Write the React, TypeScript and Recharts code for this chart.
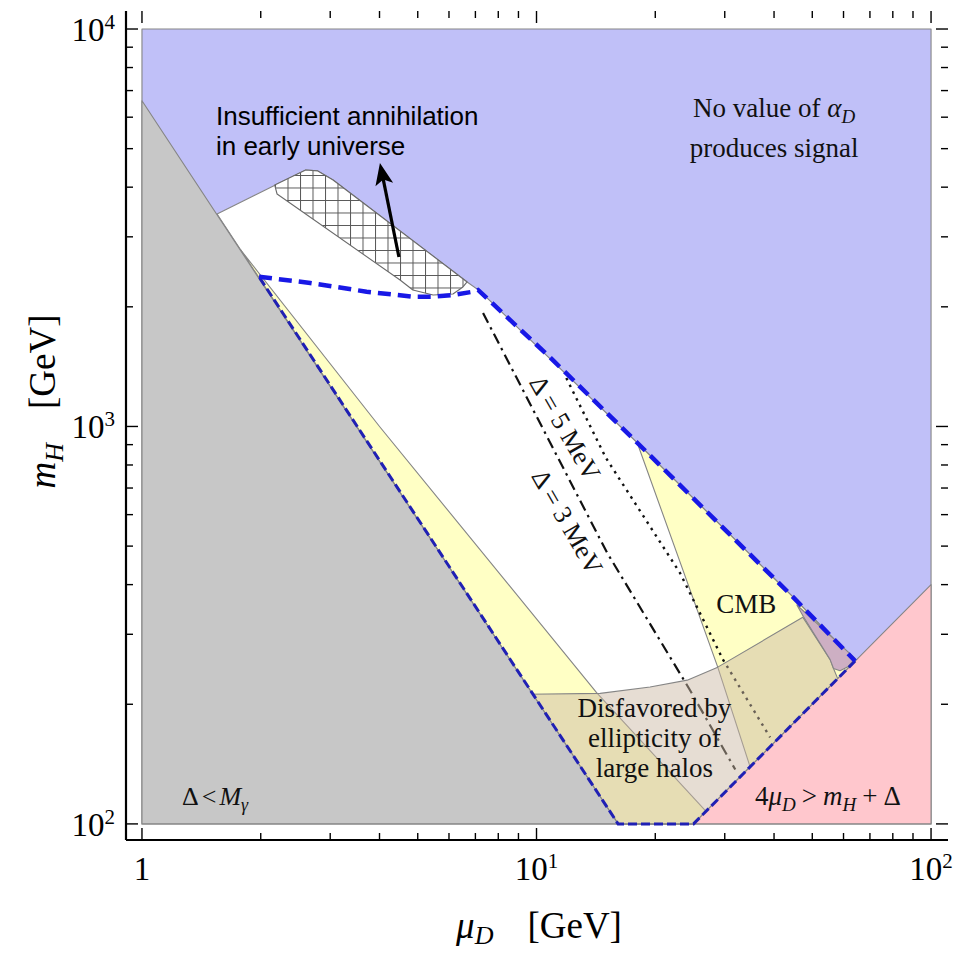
import React from "react";
import { ScatterChart, Scatter, XAxis, YAxis } from "recharts";

const SERIF = '"Liberation Serif", "Times New Roman", Times, serif';
const SANS = '"Liberation Sans", Arial, Helvetica, sans-serif';

const CHART_W = 959;
const CHART_H = 954;
const MARGIN = { top: 11, right: 11, left: 0, bottom: 0 };
const PLOT_TOP = MARGIN.top;
const PLOT_RIGHT = CHART_W - MARGIN.right;

// frame ticks
const xTicks = [1, 2, 3, 4, 5, 6, 7, 8, 9, 10, 20, 30, 40, 50, 60, 70, 80, 90, 100];
const yTicks = [100, 200, 300, 400, 500, 600, 700, 800, 900, 1000, 2000, 3000, 4000, 5000, 6000, 7000, 8000, 9000, 10000];
const xTickLabels: Record<number, [string, string]> = { 1: ["1", ""], 10: ["10", "1"], 100: ["10", "2"] };
const yTickLabels: Record<number, [string, string]> = { 100: ["10", "2"], 1000: ["10", "3"], 10000: ["10", "4"] };

// plot range: 1..100 and 100..10^4 plus frame padding
const xDomain = [0.911, 110.4];
const yDomain = [91.1, 11100];

// regions, points are {x: mu_D [GeV], y: m_H [GeV]}
const noSignalRegion = [
  { x: 1, y: 100 }, { x: 100, y: 100 }, { x: 100, y: 10000 }, { x: 1, y: 10000 },
];
const allowedRegion = [
  { x: 1.55, y: 3425 }, { x: 2.6, y: 4420 }, { x: 2.79, y: 4395 }, { x: 3.05, y: 4170 },
  { x: 6.67, y: 2310 }, { x: 7.19, y: 2190 }, { x: 18, y: 910 }, { x: 44.7, y: 372 },
  { x: 64.2, y: 257 }, { x: 25, y: 100 }, { x: 16.1, y: 100 },
];
const earlyUniverseRegion = [
  { x: 2.17, y: 4050 }, { x: 2.6, y: 4420 }, { x: 2.79, y: 4395 }, { x: 3.05, y: 4170 },
  { x: 6.67, y: 2310 }, { x: 6.51, y: 2244 }, { x: 6.14, y: 2154 }, { x: 5.47, y: 2142 },
  { x: 4.86, y: 2205 }, { x: 4.51, y: 2336 }, { x: 2.2, y: 3845 },
];
const leftYellowRegion = [
  { x: 1.78, y: 2780 }, { x: 4.01, y: 997 }, { x: 14.2, y: 214 }, { x: 26.9, y: 107.5 },
  { x: 25, y: 100 }, { x: 16.1, y: 100 },
];
const cmbRegion = [
  { x: 18, y: 910 }, { x: 44.7, y: 372 }, { x: 64.2, y: 257 }, { x: 34.8, y: 139 }, { x: 28.8, y: 248 },
];
const haloRegion = [
  { x: 9.5, y: 212 }, { x: 14.5, y: 213 }, { x: 19.4, y: 221 }, { x: 24.1, y: 230 },
  { x: 28.8, y: 248 }, { x: 47.3, y: 331 }, { x: 55.5, y: 259 }, { x: 56.6, y: 246 },
  { x: 58, y: 232 }, { x: 25, y: 100 }, { x: 16.1, y: 100 },
];
const purpleRegion = [
  { x: 45.7, y: 355.5 }, { x: 47.5, y: 332 }, { x: 55.5, y: 259 }, { x: 56.6, y: 246 },
  { x: 58.8, y: 243 }, { x: 61.7, y: 249 }, { x: 64.2, y: 261 },
];
const deltaBelowPhotonRegion = [{ x: 1, y: 6600 }, { x: 16.1, y: 100 }, { x: 1, y: 100 }];
const kinematicRegion = [{ x: 25, y: 100 }, { x: 100, y: 400 }, { x: 100, y: 100 }];

// boundaries
const signalEdgeUpper = [
  { x: 1.98, y: 2380 }, { x: 2.67, y: 2296 }, { x: 3.71, y: 2183 }, { x: 4.86, y: 2121 },
  { x: 5.47, y: 2121 }, { x: 6.14, y: 2142 }, { x: 6.9, y: 2183 }, { x: 7.11, y: 2205 },
  { x: 10.8, y: 1495 }, { x: 18, y: 910 }, { x: 44.7, y: 372 }, { x: 64.2, y: 257 },
];
const signalEdgeLower = [
  { x: 64.2, y: 257 }, { x: 25, y: 100 }, { x: 16.1, y: 100 }, { x: 1.98, y: 2380 },
];
const delta3MeV = [{ x: 7.32, y: 1930 }, { x: 15.1, y: 481 }, { x: 24.5, y: 217 }, { x: 31.9, y: 137 }];
const delta5MeV = [
  { x: 11.9, y: 1324 }, { x: 15, y: 833 }, { x: 23.1, y: 428 }, { x: 29.7, y: 259 }, { x: 39.1, y: 165 },
];
const arrowPts = [{ x: 4.48, y: 2670 }, { x: 4.01, y: 4603 }];

// text anchors
const labelAnchors = [
  { x: 1.54, y: 5734, id: "insufficient" },
  { x: 40, y: 6004, id: "noValue" },
  { x: 34, y: 339.5, id: "cmb" },
  { x: 19.9, y: 186, id: "halo" },
  { x: 11.8, y: 990, id: "delta5" },
  { x: 11.95, y: 575, id: "delta3" },
  { x: 1.263, y: 111.6, id: "deltaLess" },
  { x: 35.8, y: 111.6, id: "kinematic" },
];

const toPts = (props: any) => (props.points || []).map((p: any) => `${p.x},${p.y}`).join(" ");

const region = (fill: string, extra: any = {}) => (props: any) => (
  <polygon points={toPts(props)} fill={fill} stroke="#858585" strokeWidth={1.1} strokeLinejoin="round" {...extra} />
);

const path = (stroke: string, width: number, dash?: string, cap: any = "butt") => (props: any) => (
  <polyline points={toPts(props)} fill="none" stroke={stroke} strokeWidth={width} strokeDasharray={dash} strokeLinecap={cap} />
);

const arrow = (props: any) => {
  const pts = props.points || [];
  if (pts.length < 2) return <g />;
  const [a, b] = pts;
  const dx = b.x - a.x, dy = b.y - a.y;
  const len = Math.hypot(dx, dy) || 1;
  const ux = dx / len, uy = dy / len;
  const bx = b.x - 22 * ux, by = b.y - 22 * uy;
  const nx = -uy, ny = ux;
  const head = [
    `${b.x},${b.y}`,
    `${bx + 9 * nx},${by + 9 * ny}`,
    `${bx + 5 * ux},${by + 5 * uy}`,
    `${bx - 9 * nx},${by - 9 * ny}`,
  ].join(" ");
  return (
    <g>
      <line x1={a.x} y1={a.y} x2={bx + 6 * ux} y2={by + 6 * uy} stroke="#000" strokeWidth={3.2} />
      <polygon points={head} fill="#000" />
    </g>
  );
};

const noDot = () => <g />;

const renderLabel = (p: any) => {
  const { cx, cy, payload } = p;
  const serif = { fontFamily: SERIF, fontSize: 27, fill: "#111" };
  switch (payload.id) {
    case "insufficient":
      return (
        <g>
          <text x={cx} y={cy} fontFamily={SANS} fontSize={26} fill="#000">Insufficient annihilation</text>
          <text x={cx} y={cy + 30} fontFamily={SANS} fontSize={26} fill="#000">in early universe</text>
        </g>
      );
    case "noValue":
      return (
        <g>
          <text x={cx} y={cy} textAnchor="middle" {...serif}>
            No value of{" "}
            <tspan fontStyle="italic">α</tspan>
            <tspan fontStyle="italic" fontSize={19} dy={6}>D</tspan>
          </text>
          <text x={cx} y={cy + 40} textAnchor="middle" {...serif}>produces signal</text>
        </g>
      );
    case "cmb":
      return <text x={cx} y={cy} textAnchor="middle" {...serif}>CMB</text>;
    case "halo":
      return (
        <g>
          <text x={cx} y={cy} textAnchor="middle" {...serif}>Disfavored by</text>
          <text x={cx} y={cy + 30} textAnchor="middle" {...serif}>ellipticity of</text>
          <text x={cx} y={cy + 60} textAnchor="middle" {...serif}>large halos</text>
        </g>
      );
    case "delta5":
    case "delta3":
      return (
        <text x={cx} y={cy} transform={`rotate(60 ${cx} ${cy})`} textAnchor="middle" dominantBaseline="central" {...serif} fontSize={26}>
          {payload.id === "delta5" ? "Δ = 5 MeV" : "Δ = 3 MeV"}
        </text>
      );
    case "deltaLess":
      return (
        <text x={cx} y={cy} {...serif} fontSize={26}>
          Δ<tspan dx={3}>&lt;</tspan>
          <tspan dx={3} fontStyle="italic">M</tspan>
          <tspan fontStyle="italic" fontSize={18} dy={6}>γ</tspan>
        </text>
      );
    case "kinematic":
      return (
        <text x={cx} y={cy} {...serif} fontSize={27}>
          4<tspan fontStyle="italic">μ</tspan>
          <tspan fontStyle="italic" fontSize={19} dy={6}>D</tspan>
          <tspan dy={-6} dx={6}>&gt;</tspan>
          <tspan dx={6} fontStyle="italic">m</tspan>
          <tspan fontStyle="italic" fontSize={19} dy={6}>H</tspan>
          <tspan dy={-6} dx={6}>+</tspan>
          <tspan dx={6}>Δ</tspan>
        </text>
      );
    default:
      return <g />;
  }
};

const TickText = ({ x, y, anchor, base, sup }: any) => (
  <text x={x} y={y} textAnchor={anchor} fontFamily={SERIF} fontSize={33} fill="#000">
    {base}
    {sup ? <tspan dy={-12} fontSize={21}>{sup}</tspan> : null}
  </text>
);

// bottom axis draws its own ticks plus the mirrored ones on the top edge
const bottomTick = (props: any) => {
  const { x, y, payload } = props;
  const lbl = xTickLabels[payload.value];
  const len = lbl ? 12 : 7;
  return (
    <g>
      <line x1={x} y1={y} x2={x} y2={y - len} stroke="#000" strokeWidth={1.4} />
      <line x1={x} y1={PLOT_TOP} x2={x} y2={PLOT_TOP + len} stroke="#000" strokeWidth={1.4} />
      {lbl && <TickText x={x} y={y + 40} anchor="middle" base={lbl[0]} sup={lbl[1]} />}
    </g>
  );
};
const leftTick = (props: any) => {
  const { x, y, payload } = props;
  const lbl = yTickLabels[payload.value];
  const len = lbl ? 12 : 7;
  return (
    <g>
      <line x1={x} y1={y} x2={x + len} y2={y} stroke="#000" strokeWidth={1.4} />
      <line x1={PLOT_RIGHT} y1={y} x2={PLOT_RIGHT - len} y2={y} stroke="#000" strokeWidth={1.4} />
      {lbl && <TickText x={x - 11} y={y + 12} anchor="end" base={lbl[0]} sup={lbl[1]} />}
    </g>
  );
};

const xTitle = (props: any) => {
  const vb = props?.viewBox ?? { x: 126, y: 840, width: 822, height: 114 };
  return (
    <text x={vb.x + vb.width / 2 + 2} y={vb.y + 98} textAnchor="middle" fontFamily={SERIF} fontSize={37} fill="#000">
      <tspan fontStyle="italic">μ</tspan>
      <tspan fontStyle="italic" fontSize={26} dy={6}>D</tspan>
      <tspan dy={-6} dx={34}>[GeV]</tspan>
    </text>
  );
};
const yTitle = (props: any) => {
  const vb = props?.viewBox ?? { x: 0, y: 11, width: 126, height: 829 };
  const cx = vb.x + 55;
  const cy = vb.y + vb.height / 2 - 24;
  return (
    <text transform={`translate(${cx}, ${cy}) rotate(-90)`} textAnchor="middle" fontFamily={SERIF} fontSize={37} fill="#000">
      <tspan fontStyle="italic">m</tspan>
      <tspan fontStyle="italic" fontSize={26} dy={8}>H</tspan>
      <tspan dy={-8} dx={34}>[GeV]</tspan>
    </text>
  );
};

const frameLine = { stroke: "#000", strokeWidth: 2.2 };

export default function App() {
  return (
    <div>
      <style>{"body{margin:0}"}</style>
      <ScatterChart width={CHART_W} height={CHART_H} margin={MARGIN}>
        <defs>
          <pattern id="crossHatch" width={12.5} height={12.5} patternUnits="userSpaceOnUse">
            <rect width={12.5} height={12.5} fill="#fff" />
            <path d="M0,0.5 H12.5 M0.5,0 V12.5" stroke="#585858" strokeWidth={1} />
          </pattern>
        </defs>
        <XAxis
          type="number" dataKey="x" scale="log" domain={xDomain} allowDataOverflow
          ticks={xTicks} interval={0} tickSize={0} tickMargin={0} height={114}
          axisLine={frameLine} tickLine={false} tick={bottomTick} label={{ content: xTitle }}
        />
        <XAxis
          xAxisId="top" orientation="top" type="number" scale="log" domain={xDomain} allowDataOverflow
          height={0} axisLine={frameLine} tickLine={false} tick={false}
        />
        <YAxis
          type="number" dataKey="y" scale="log" domain={yDomain} allowDataOverflow
          ticks={yTicks} interval={0} tickSize={0} tickMargin={0} width={126}
          axisLine={frameLine} tickLine={false} tick={leftTick} label={{ content: yTitle }}
        />
        <YAxis
          yAxisId="right" orientation="right" type="number" scale="log" domain={yDomain} allowDataOverflow
          width={0} axisLine={frameLine} tickLine={false} tick={false}
        />

        <Scatter data={noSignalRegion} line={region("#c0c0f8")} shape={noDot} isAnimationActive={false} />
        <Scatter data={allowedRegion} line={region("#ffffff")} shape={noDot} isAnimationActive={false} />
        <Scatter data={earlyUniverseRegion} line={region("url(#crossHatch)", { stroke: "#6a6a6a" })} shape={noDot} isAnimationActive={false} />
        <Scatter data={leftYellowRegion} line={region("#ffffc5")} shape={noDot} isAnimationActive={false} />
        <Scatter data={cmbRegion} line={region("#ffffc5")} shape={noDot} isAnimationActive={false} />
        <Scatter data={delta3MeV} line={path("#111", 2.2, "11 5 2.5 5")} shape={noDot} isAnimationActive={false} />
        <Scatter data={delta5MeV} line={path("#111", 2.4, "2.5 5")} shape={noDot} isAnimationActive={false} />
        <Scatter data={haloRegion} line={region("rgb(202,183,162)", { fillOpacity: 0.475 })} shape={noDot} isAnimationActive={false} />
        <Scatter data={purpleRegion} line={region("#cdafc3")} shape={noDot} isAnimationActive={false} />
        <Scatter data={deltaBelowPhotonRegion} line={region("#c7c7c7")} shape={noDot} isAnimationActive={false} />
        <Scatter data={kinematicRegion} line={region("#ffc7cd")} shape={noDot} isAnimationActive={false} />
        <Scatter data={signalEdgeLower} line={path("#2020b4", 3, "9 4")} shape={noDot} isAnimationActive={false} />
        <Scatter data={signalEdgeUpper} line={path("#1818e6", 4.5, "13 7")} shape={noDot} isAnimationActive={false} />
        <Scatter data={arrowPts} line={arrow} shape={noDot} isAnimationActive={false} />
        <Scatter data={labelAnchors} shape={renderLabel} isAnimationActive={false} />
      </ScatterChart>
    </div>
  );
}
